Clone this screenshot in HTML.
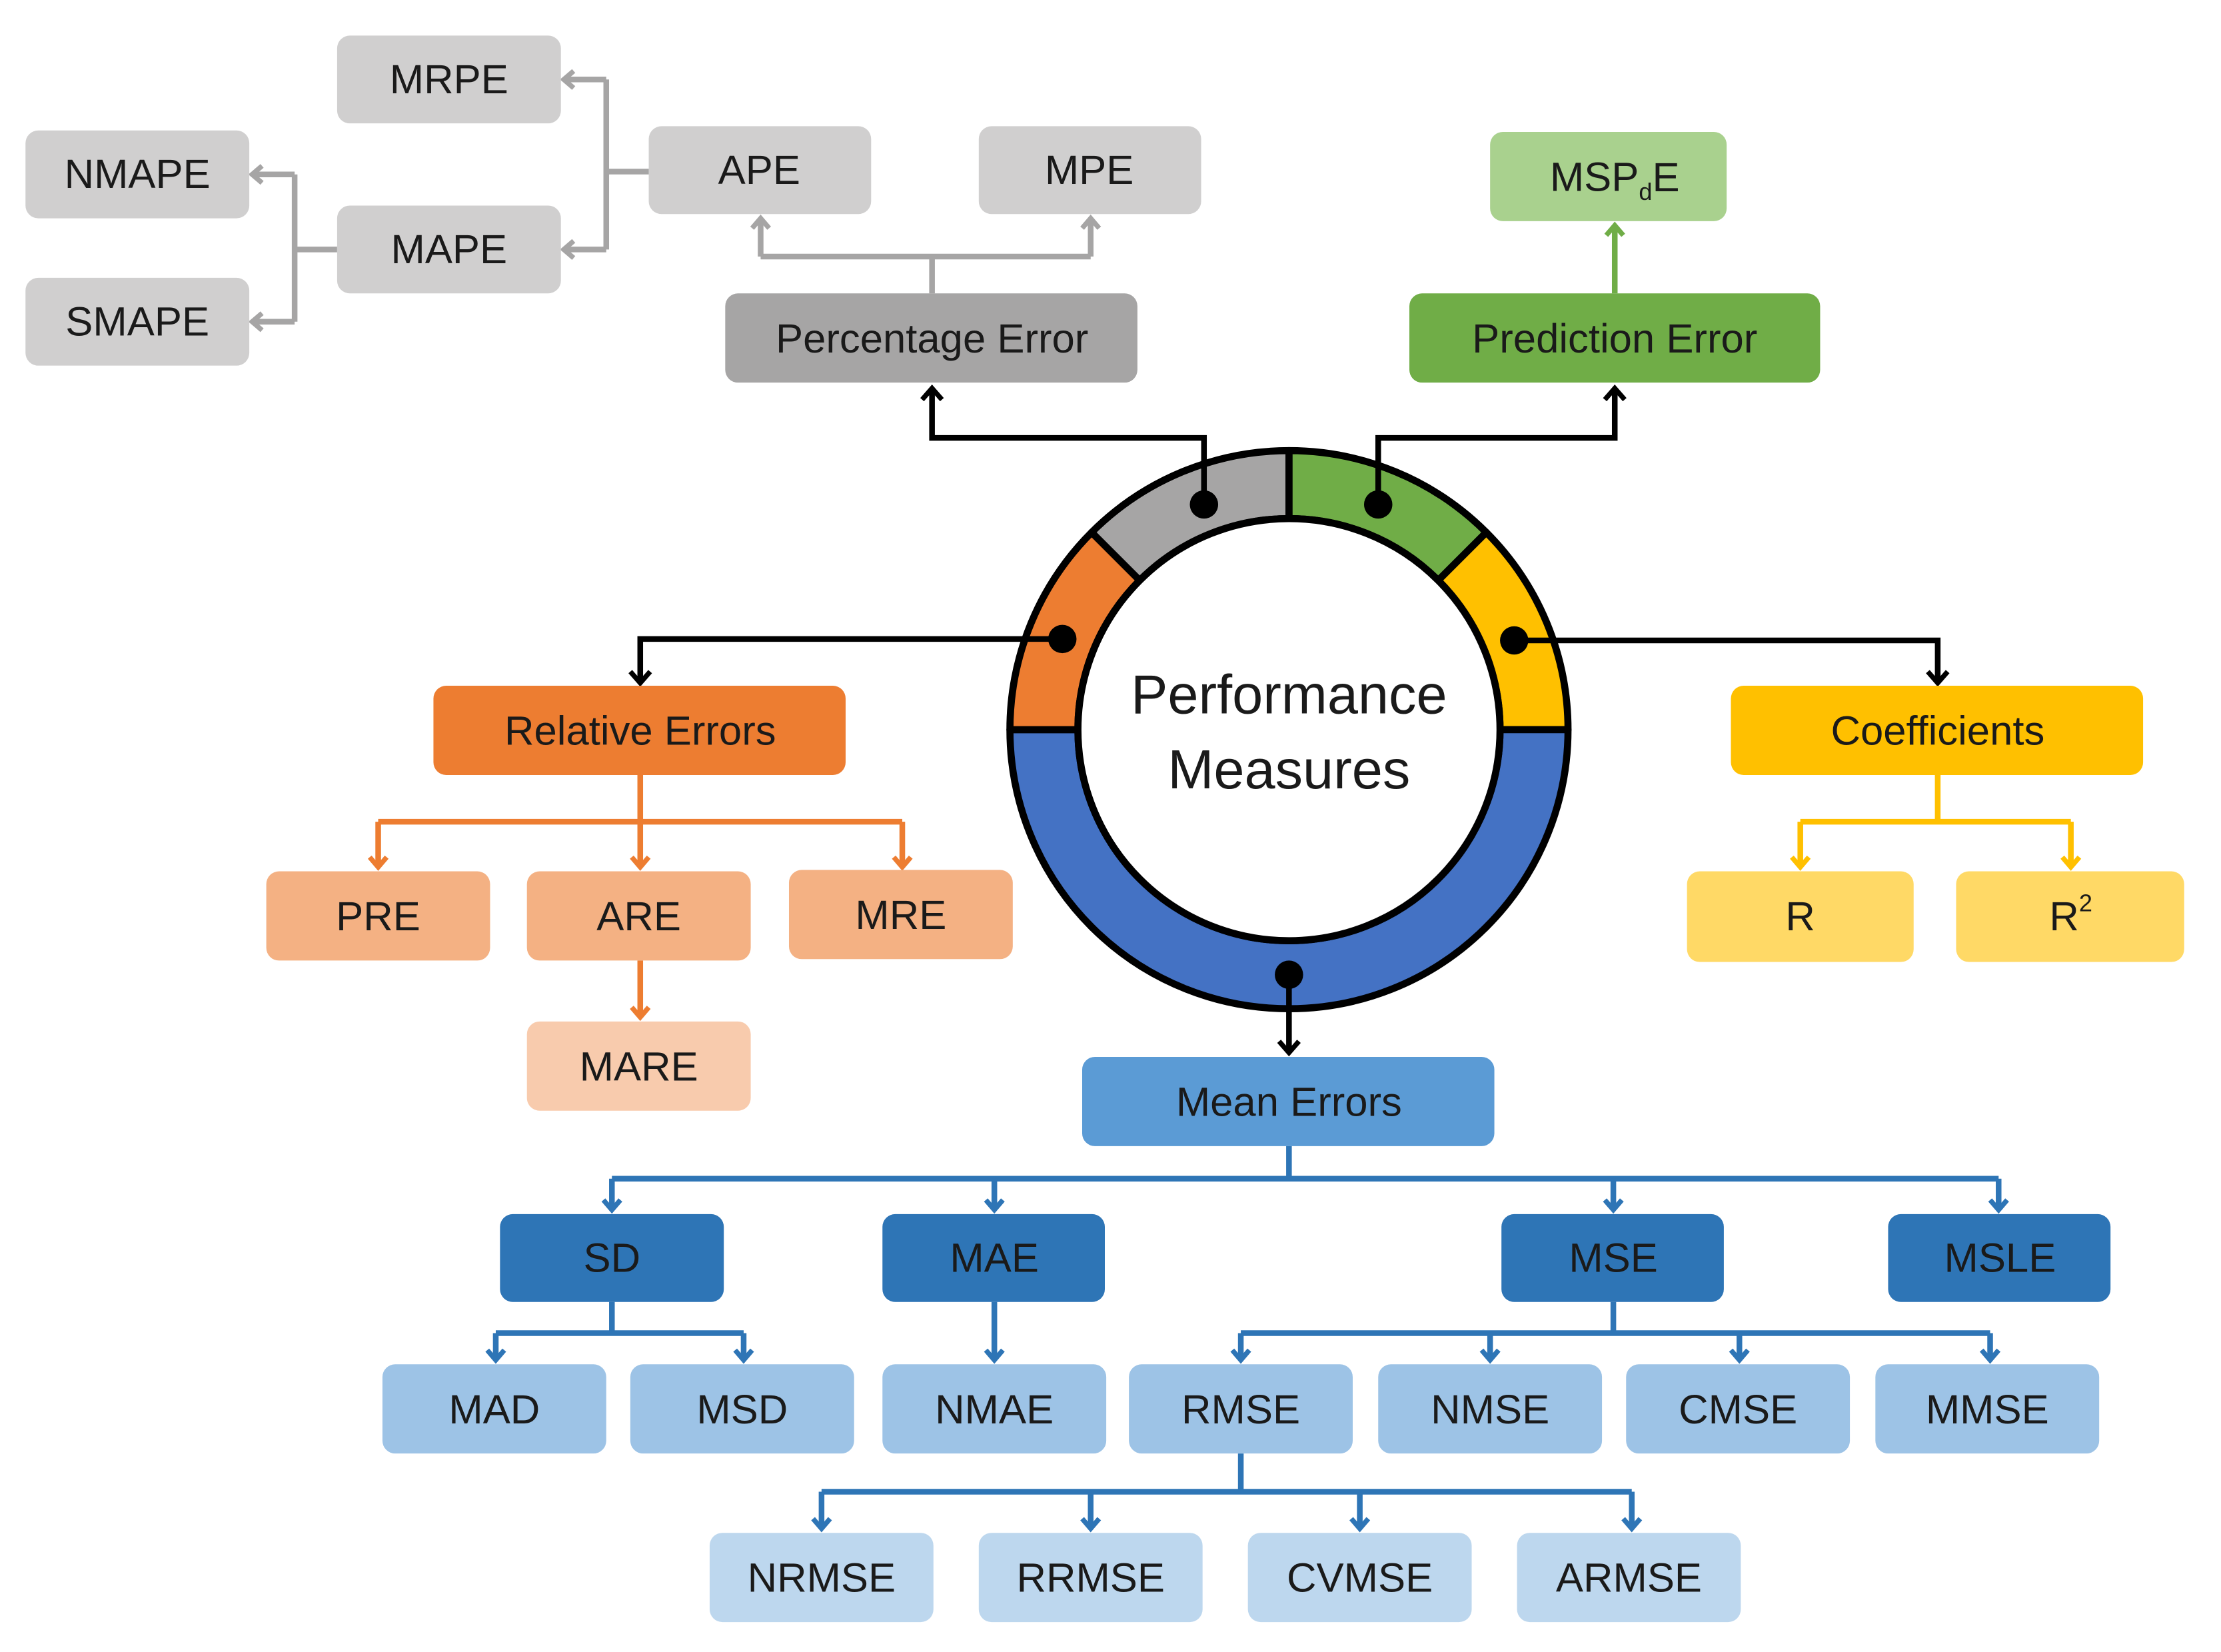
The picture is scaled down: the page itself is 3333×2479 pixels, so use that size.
<!DOCTYPE html>
<html><head><meta charset="utf-8"><style>
html,body{margin:0;padding:0;background:#fff}
svg{display:block}
text{font-family:"Liberation Sans",sans-serif;font-size:29px;fill:#1a1a1a;text-anchor:middle;dominant-baseline:central}
</style></head><body>
<svg width="3333" height="2479" viewBox="0 0 1568 1166" xmlns="http://www.w3.org/2000/svg">
<defs>
<marker id="ak" markerUnits="userSpaceOnUse" markerWidth="20" markerHeight="20" refX="10" refY="10" orient="auto"><path d="M2,3 L10,10 L2,17" fill="none" stroke="#000" stroke-width="3.5"/></marker>
<marker id="ag" markerUnits="userSpaceOnUse" markerWidth="20" markerHeight="20" refX="10" refY="10" orient="auto"><path d="M3,4 L10,10 L3,16" fill="none" stroke="#a6a5a5" stroke-width="3.5"/></marker>
<marker id="agr" markerUnits="userSpaceOnUse" markerWidth="20" markerHeight="20" refX="10" refY="10" orient="auto"><path d="M3,4 L10,10 L3,16" fill="none" stroke="#70ad47" stroke-width="3.5"/></marker>
<marker id="ao" markerUnits="userSpaceOnUse" markerWidth="20" markerHeight="20" refX="10" refY="10" orient="auto"><path d="M3,4 L10,10 L3,16" fill="none" stroke="#ed7d31" stroke-width="3.5"/></marker>
<marker id="ay" markerUnits="userSpaceOnUse" markerWidth="20" markerHeight="20" refX="10" refY="10" orient="auto"><path d="M3,4 L10,10 L3,16" fill="none" stroke="#ffc000" stroke-width="3.5"/></marker>
<marker id="ab" markerUnits="userSpaceOnUse" markerWidth="20" markerHeight="20" refX="10" refY="10" orient="auto"><path d="M3,4 L10,10 L3,16" fill="none" stroke="#2e75b6" stroke-width="3.5"/></marker>
</defs>

<!-- gray connectors -->
<g fill="none" stroke="#a6a5a5" stroke-width="4">
<path d="M658,207 V181 M537,181 H770"/>
<path d="M537,181 V154" marker-end="url(#ag)"/>
<path d="M770,181 V154" marker-end="url(#ag)"/>
<path d="M458,121 H428 M428,56 V176"/>
<path d="M428,56 H398" marker-end="url(#ag)"/>
<path d="M428,176 H398" marker-end="url(#ag)"/>
<path d="M238,176 H208 M208,123 V227"/>
<path d="M208,123 H178" marker-end="url(#ag)"/>
<path d="M208,227 H178" marker-end="url(#ag)"/>
</g>
<path d="M1140,207 V159" fill="none" stroke="#70ad47" stroke-width="4" marker-end="url(#agr)"/>
<g fill="none" stroke="#ed7d31" stroke-width="4">
<path d="M452,547 V580 M267,580 H637"/>
<path d="M267,580 V612" marker-end="url(#ao)"/>
<path d="M452,580 V612" marker-end="url(#ao)"/>
<path d="M637,580 V612" marker-end="url(#ao)"/>
<path d="M452,678 V718" marker-end="url(#ao)"/>
</g>
<g fill="none" stroke="#ffc000" stroke-width="4">
<path d="M1368,547 V580 M1271,580 H1462"/>
<path d="M1271,580 V612" marker-end="url(#ay)"/>
<path d="M1462,580 V612" marker-end="url(#ay)"/>
</g>
<g fill="none" stroke="#2e75b6" stroke-width="4">
<path d="M910,809 V832 M432,832 H1411"/>
<path d="M432,832 V854" marker-end="url(#ab)"/>
<path d="M702,832 V854" marker-end="url(#ab)"/>
<path d="M1139,832 V854" marker-end="url(#ab)"/>
<path d="M1411,832 V854" marker-end="url(#ab)"/>
<path d="M432,919 V941 M350,941 H525"/>
<path d="M350,941 V960" marker-end="url(#ab)"/>
<path d="M525,941 V960" marker-end="url(#ab)"/>
<path d="M702,919 V960" marker-end="url(#ab)"/>
<path d="M1139,919 V941 M876,941 H1405"/>
<path d="M876,941 V960" marker-end="url(#ab)"/>
<path d="M1052,941 V960" marker-end="url(#ab)"/>
<path d="M1228,941 V960" marker-end="url(#ab)"/>
<path d="M1405,941 V960" marker-end="url(#ab)"/>
<path d="M876,1026 V1053 M580,1053 H1152"/>
<path d="M580,1053 V1079" marker-end="url(#ab)"/>
<path d="M770,1053 V1079" marker-end="url(#ab)"/>
<path d="M960,1053 V1079" marker-end="url(#ab)"/>
<path d="M1152,1053 V1079" marker-end="url(#ab)"/>
</g>

<!-- ring -->
<g stroke="#000" stroke-width="5" stroke-linejoin="round">
<path d="M910,318 A197,197 0 0 1 1049.3,375.7 L1015.4,409.6 A149,149 0 0 0 910,366 Z" fill="#70ad47"/>
<path d="M1049.3,375.7 A197,197 0 0 1 1107,515 L1059,515 A149,149 0 0 0 1015.4,409.6 Z" fill="#ffc000"/>
<path d="M1107,515 A197,197 0 0 1 713,515 L761,515 A149,149 0 0 0 1059,515 Z" fill="#4472c4"/>
<path d="M713,515 A197,197 0 0 1 770.7,375.7 L804.6,409.6 A149,149 0 0 0 761,515 Z" fill="#ed7d31"/>
<path d="M770.7,375.7 A197,197 0 0 1 910,318 L910,366 A149,149 0 0 0 804.6,409.6 Z" fill="#a6a5a5"/>
</g>
<circle cx="910" cy="515" r="149" fill="#fff" stroke="#000" stroke-width="5"/>
<text x="910" y="490" style="font-size:39px">Performance</text>
<text x="910" y="543" style="font-size:39px">Measures</text>

<!-- black connectors -->
<g fill="none" stroke="#000" stroke-width="4">
<path d="M850,356 V309 H658 V274" marker-end="url(#ak)"/>
<path d="M973,356 V309 H1140 V274" marker-end="url(#ak)"/>
<path d="M750,451 H452 V482" marker-end="url(#ak)"/>
<path d="M1069,452 H1368 V482" marker-end="url(#ak)"/>
<path d="M910,688 V743" marker-end="url(#ak)"/>
</g>
<g fill="#000">
<circle cx="850" cy="356" r="10"/><circle cx="973" cy="356" r="10"/>
<circle cx="750" cy="451" r="10"/><circle cx="1069" cy="452" r="10"/>
<circle cx="910" cy="688" r="10"/>
</g>

<!-- boxes -->
<g>
<rect x="238" y="25" width="158" height="62" rx="9" fill="#d0cfcf"/><text x="317" y="56">MRPE</text>
<rect x="18" y="92" width="158" height="62" rx="9" fill="#d0cfcf"/><text x="97" y="123">NMAPE</text>
<rect x="238" y="145" width="158" height="62" rx="9" fill="#d0cfcf"/><text x="317" y="176">MAPE</text>
<rect x="18" y="196" width="158" height="62" rx="9" fill="#d0cfcf"/><text x="97" y="227">SMAPE</text>
<rect x="458" y="89" width="157" height="62" rx="9" fill="#d0cfcf"/><text x="536" y="120">APE</text>
<rect x="691" y="89" width="157" height="62" rx="9" fill="#d0cfcf"/><text x="769" y="120">MPE</text>
<rect x="512" y="207" width="291" height="63" rx="9" fill="#a6a5a5"/><text x="658" y="239">Percentage Error</text>
<rect x="1052" y="93" width="167" height="63" rx="9" fill="#a9d18e"/><text x="1140" y="125">MSP<tspan style="font-size:17px" dy="10">d</tspan><tspan dy="-10">E</tspan></text>
<rect x="995" y="207" width="290" height="63" rx="9" fill="#70ad47"/><text x="1140" y="239">Prediction Error</text>
<rect x="306" y="484" width="291" height="63" rx="9" fill="#ed7d31"/><text x="452" y="516">Relative Errors</text>
<rect x="188" y="615" width="158" height="63" rx="9" fill="#f4b183"/><text x="267" y="647">PRE</text>
<rect x="372" y="615" width="158" height="63" rx="9" fill="#f4b183"/><text x="451" y="647">ARE</text>
<rect x="557" y="614" width="158" height="63" rx="9" fill="#f4b183"/><text x="636" y="646">MRE</text>
<rect x="372" y="721" width="158" height="63" rx="9" fill="#f8cbad"/><text x="451" y="753">MARE</text>
<rect x="1222" y="484" width="291" height="63" rx="9" fill="#ffc000"/><text x="1368" y="516">Coefficients</text>
<rect x="1191" y="615" width="160" height="64" rx="9" fill="#ffd966"/><text x="1271" y="647">R</text>
<rect x="1381" y="615" width="161" height="64" rx="9" fill="#ffd966"/><text x="1462" y="647">R<tspan style="font-size:17px" dy="-10">2</tspan></text>
<rect x="764" y="746" width="291" height="63" rx="9" fill="#5b9bd5"/><text x="910" y="778">Mean Errors</text>
<rect x="353" y="857" width="158" height="62" rx="9" fill="#2e75b6"/><text x="432" y="888">SD</text>
<rect x="623" y="857" width="157" height="62" rx="9" fill="#2e75b6"/><text x="702" y="888">MAE</text>
<rect x="1060" y="857" width="157" height="62" rx="9" fill="#2e75b6"/><text x="1139" y="888">MSE</text>
<rect x="1333" y="857" width="157" height="62" rx="9" fill="#2e75b6"/><text x="1412" y="888">MSLE</text>
<g fill="#9dc3e6">
<rect x="270" y="963" width="158" height="63" rx="9"/><rect x="445" y="963" width="158" height="63" rx="9"/>
<rect x="623" y="963" width="158" height="63" rx="9"/><rect x="797" y="963" width="158" height="63" rx="9"/>
<rect x="973" y="963" width="158" height="63" rx="9"/><rect x="1148" y="963" width="158" height="63" rx="9"/>
<rect x="1324" y="963" width="158" height="63" rx="9"/>
</g>
<text x="349" y="995">MAD</text><text x="524" y="995">MSD</text><text x="702" y="995">NMAE</text>
<text x="876" y="995">RMSE</text><text x="1052" y="995">NMSE</text><text x="1227" y="995">CMSE</text><text x="1403" y="995">MMSE</text>
<g fill="#bdd7ee">
<rect x="501" y="1082" width="158" height="63" rx="9"/><rect x="691" y="1082" width="158" height="63" rx="9"/>
<rect x="881" y="1082" width="158" height="63" rx="9"/><rect x="1071" y="1082" width="158" height="63" rx="9"/>
</g>
<text x="580" y="1114">NRMSE</text><text x="770" y="1114">RRMSE</text><text x="960" y="1114">CVMSE</text><text x="1150" y="1114">ARMSE</text>
</g>
</svg>
</body></html>
